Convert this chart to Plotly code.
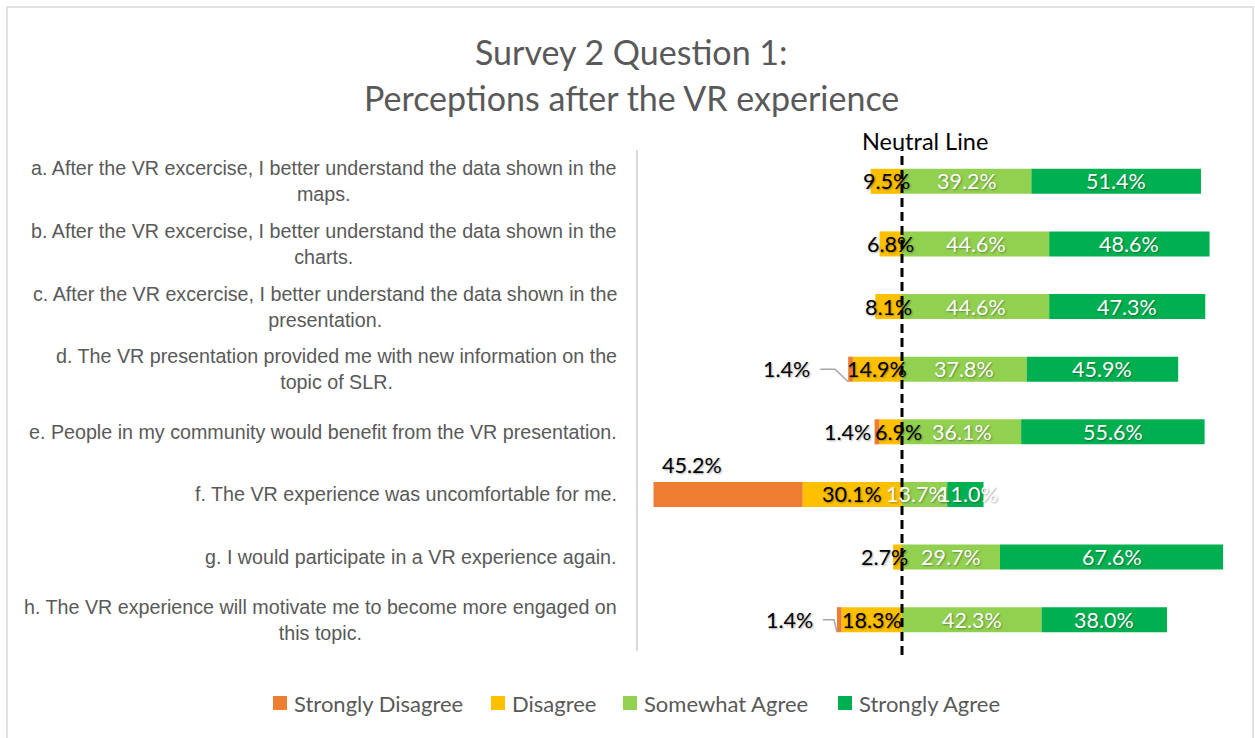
import plotly.graph_objects as go

# ---------------- data ----------------
categories = [
    "a. After the VR excercise, I better understand the data shown in the<br>maps.",
    "b. After the VR excercise, I better understand the data shown in the<br>charts.",
    "c. After the VR excercise, I better understand the data shown in the<br>presentation.",
    "d. The VR presentation provided me with new information on the<br>topic of SLR.",
    "e. People in my community would benefit from the VR presentation.",
    "f. The VR experience was uncomfortable for me.",
    "g. I would participate in a VR experience again.",
    "h. The VR experience will motivate me to become more engaged on<br>this topic.",
]
strongly_disagree = [0, 0, 0, 1.4, 1.4, 45.2, 0, 1.4]
disagree = [9.5, 6.8, 8.1, 14.9, 6.9, 30.1, 2.7, 18.3]
somewhat_agree = [39.2, 44.6, 44.6, 37.8, 36.1, 13.7, 29.7, 42.3]
strongly_agree = [51.4, 48.6, 47.3, 45.9, 55.6, 11.0, 67.6, 38.0]
series_names = ["Strongly Disagree", "Disagree", "Somewhat Agree", "Strongly Agree"]
title_lines = ["Survey 2 Question 1:", "Perceptions after the VR experience"]

# ---------------- style ----------------
C_SD, C_D, C_SA, C_STA = "#ED7D31", "#FFC000", "#92D050", "#00B050"
series_colors = [C_SD, C_D, C_SA, C_STA]
GRAY = "#595959"
W, H = 1255, 738
ML, MR, MT, MB = 638, 23, 150, 87
PW, PH = W - ML - MR, H - MT - MB
LABEL_FONT = "Lato, 'Open Sans', sans-serif"
CAT_FONT = "'Liberation Sans Narrow', 'Arial Narrow', 'Liberation Sans', Arial, sans-serif"
SHADOW = "1px 1px 2px rgba(0,0,0,0.35)"

def px_x(px):
    return (px - ML) / PW

def px_y(py):
    return (H - MB - py) / PH

n = len(categories)
ypos = list(range(n))
neg_d = [-v for v in disagree]
neg_sd = [-v for v in strongly_disagree]

fig = go.Figure()
# Disagree first so it sits next to zero, strongly disagree stacks further left
fig.add_trace(go.Bar(y=ypos, x=neg_d, orientation="h", name=series_names[1],
                     marker=dict(color=C_D, line=dict(width=0)),
                     width=0.4, hoverinfo="skip"))
fig.add_trace(go.Bar(y=ypos, x=neg_sd, orientation="h", name=series_names[0],
                     marker=dict(color=C_SD, line=dict(width=0)),
                     width=0.4, hoverinfo="skip"))
fig.add_trace(go.Bar(y=ypos, x=somewhat_agree, orientation="h", name=series_names[2],
                     marker=dict(color=C_SA, line=dict(width=0)),
                     width=0.4, hoverinfo="skip"))
fig.add_trace(go.Bar(y=ypos, x=strongly_agree, orientation="h", name=series_names[3],
                     marker=dict(color=C_STA, line=dict(width=0)),
                     width=0.4, hoverinfo="skip"))

annotations = []

def lab(x, y, text, color, xshift=0, yshift=0, xanchor="center"):
    annotations.append(dict(x=x, y=y, xref="x", yref="y", text=text, showarrow=False,
                            xanchor=xanchor, yanchor="middle", xshift=xshift, yshift=yshift,
                            font=dict(family=LABEL_FONT, size=21.5, color=color, shadow=SHADOW)))

# manual offsets (px) mimicking hand-placed labels in the original
d_shift = {4: 8, 6: -13}
sa_shift = {5: -9}
for i in range(n):
    d, sd, sa, sta = disagree[i], strongly_disagree[i], somewhat_agree[i], strongly_agree[i]
    lab(-d / 2, i, f"{d:.1f}%", "black", xshift=d_shift.get(i, 0))
    lab(sa / 2, i, f"{sa:.1f}%", "white", xshift=sa_shift.get(i, 0))
    lab(sa + sta / 2, i, f"{sta:.1f}%", "white", xshift=3 if i == 5 else 0)
    if sd > 0:
        left = -(d + sd)
        if sd > 10:
            lab(left + sd / 2, i, f"{sd:.1f}%", "black", xshift=-36, yshift=29)
        elif i == 4:
            lab(left, i, f"{sd:.1f}%", "black", xshift=-2, xanchor="right")
        else:
            gap = 36 if i == 3 else 22
            lab(left, i, f"{sd:.1f}%", "black", xshift=-gap, xanchor="right")

# category labels (right aligned block, centred lines)
for i, c in enumerate(categories):
    annotations.append(dict(x=0, y=i, xref="paper", yref="y", text=c, showarrow=False,
                            xanchor="right", yanchor="middle", align="center", xshift=-19,
                            font=dict(family=CAT_FONT, size=19.7, color=GRAY)))

# title
annotations.append(dict(x=px_x(631), y=px_y(52), xref="paper", yref="paper", text=title_lines[0],
                        showarrow=False, xanchor="center", yanchor="middle",
                        font=dict(family=LABEL_FONT, size=34, color=GRAY)))
annotations.append(dict(x=px_x(631), y=px_y(97), xref="paper", yref="paper", text=title_lines[1],
                        showarrow=False, xanchor="center", yanchor="middle",
                        font=dict(family=LABEL_FONT, size=34, color=GRAY)))

# Neutral line label
annotations.append(dict(x=0, y=px_y(141), xref="x", yref="paper", text="Neutral Line",
                        showarrow=False, xanchor="center", yanchor="middle", xshift=23,
                        font=dict(family=LABEL_FONT, size=23.5, color="black")))

shapes = []
# neutral dashed line
shapes.append(dict(type="line", xref="x", yref="paper", x0=0, x1=0, y0=px_y(655), y1=px_y(150),
                   line=dict(color="black", width=3, dash="9px,5px")))
# leader lines for small strongly-disagree values
for i in (3, 7):
    left = -(disagree[i] + strongly_disagree[i])
    x_start = left - (8.5 if i == 3 else 4.3)
    x_mid = left - (4.0 if i == 3 else 0.9)
    shapes.append(dict(type="path", xref="x", yref="y",
                       path=f"M {x_start},{i} L {x_mid},{i} L {left},{i + 0.2}",
                       line=dict(color="#A6A6A6", width=1.5)))
# chart border (bottom edge falls outside the picture, as in the original)
shapes.append(dict(type="rect", xref="paper", yref="paper", x0=px_x(7), x1=px_x(1253),
                   y0=px_y(770), y1=px_y(7), line=dict(color="#D9D9D9", width=1.5),
                   fillcolor="rgba(0,0,0,0)", layer="below"))

# legend (single row below the plot, Excel style)
legend_left_px = [273, 491, 623, 838]
LEG_Y = 703
for name, col, lx in zip(series_names, series_colors, legend_left_px):
    shapes.append(dict(type="rect", xref="paper", yref="paper",
                       x0=px_x(lx), x1=px_x(lx + 14), y0=px_y(LEG_Y + 7), y1=px_y(LEG_Y - 7),
                       fillcolor=col, line=dict(width=0)))
    annotations.append(dict(x=px_x(lx + 19), y=px_y(LEG_Y), xref="paper", yref="paper",
                            text=name, showarrow=False, xanchor="left", yanchor="middle",
                            font=dict(family=LABEL_FONT, size=22, color=GRAY)))

fig.update_layout(
    width=W, height=H, margin=dict(l=ML, r=MR, t=MT, b=MB, pad=0, autoexpand=False),
    barmode="relative", paper_bgcolor="white", plot_bgcolor="white",
    showlegend=False,
    xaxis=dict(range=[-80, 100], visible=False, showgrid=False, zeroline=False, fixedrange=True),
    yaxis=dict(range=[n - 0.5, -0.5], tickvals=ypos, ticktext=["" for _ in ypos],
               showticklabels=False, showgrid=False, zeroline=False, ticks="",
               showline=True, linecolor="#D9D9D9", linewidth=2, fixedrange=True),
    annotations=annotations, shapes=shapes,
)

fig.write_html("out.html")
